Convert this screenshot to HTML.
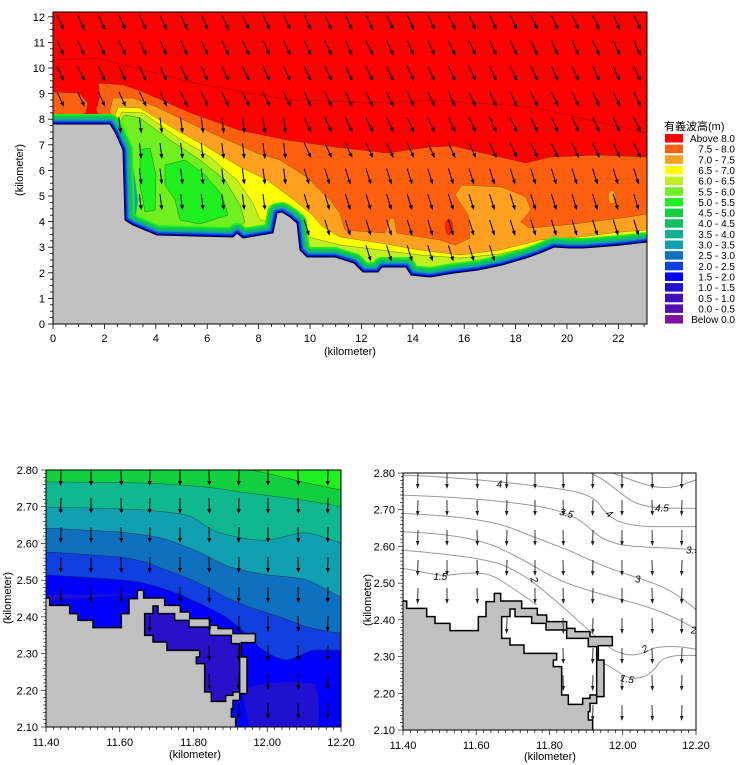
<!DOCTYPE html>
<html><head><meta charset="utf-8"><style>
html,body{margin:0;padding:0;background:#fff;}
svg{display:block;font-family:"Liberation Sans","Noto Sans CJK JP",sans-serif;}
</style></head><body>
<svg id="s" width="750" height="765" viewBox="0 0 750 765" xmlns="http://www.w3.org/2000/svg">
<defs>
<clipPath id="cT"><rect x="53" y="12" width="594" height="312"/></clipPath>
<clipPath id="cL"><rect x="46" y="470" width="295" height="257"/></clipPath>
<clipPath id="cR"><rect x="403" y="473" width="293" height="257"/></clipPath>
</defs>

<g clip-path="url(#cT)">
<rect x="53" y="12" width="594" height="312" fill="#ff0000"/>
<polyline points="53,60 97,58 194,83 290,100 387,103 435,100 532,107 647,133" fill="none" stroke="#b00000" stroke-width="0.8"/>
<polygon fill="#ff6010" stroke="#902000" stroke-width="0.5" points="53,92 79,93 88,103 86,113 76,118 53,120"/>
<polygon fill="#ff6010" stroke="#902000" stroke-width="0.5" points="98,83 124,85 143,92 191,113 239,130 287,140 335,147 387,153 430,147 454,146 478,152 526,163 550,157 598,155 647,157 647,324 53,324 53,124 100,118 96,110 100,95"/>
<polygon fill="#ffa020" stroke="#905000" stroke-width="0.5" points="110,124 110,110 113,98 133,98 157,107 190,123 223,138 257,153 280,160 307,177 330,200 340,213 345,230 385,233 390,218 394,218 397,233 440,240 455,245 470,238 468,215 455,195 462,185 502,187 526,197 531,210 521,222 530,228 574,224 621,218 647,214 647,324 53,324 53,124"/>
<ellipse cx="612" cy="197" rx="4" ry="7" fill="#ffa020" stroke="#905000" stroke-width="0.5"/>
<ellipse cx="449" cy="227" rx="3.5" ry="8" fill="#ff2000" stroke="#902000" stroke-width="0.5"/>
<polygon fill="#ffff00" stroke="#808000" stroke-width="0.5" points="112,125 118,107 140,108 173,128 207,147 240,167 267,180 290,197 310,213 323,227 340,237 380,243 420,250 460,255 500,250 540,240 580,237 620,232 647,230 647,324 53,324 53,124"/>
<polygon fill="#c0f020" stroke="#608000" stroke-width="0.5" points="115,125 122,112 143,113 177,137 210,157 237,180 253,203 260,220 273,223 300,235 340,245 380,250 420,255 460,258 500,254 540,245 580,242 620,238 647,236 647,324 53,324 53,124"/>
<polygon fill="#70f020" stroke="#308000" stroke-width="0.5" points="118,124 125,115 140,118 170,140 200,160 225,180 240,205 245,222 230,232 140,228 125,200"/>
<polygon fill="#20f020" stroke="#108000" stroke-width="0.5" points="165,165 185,160 205,175 222,195 228,215 200,224 180,220 175,200 165,185"/>
<polygon fill="#20f020" stroke="#108000" stroke-width="0.5" points="140,150 150,148 156,175 155,210 145,212 140,185"/>
<polygon fill="#10a0b0" points="124,150 133,165 138,200 135,222 124,222"/>
<polygon fill="#1070c0" points="124,165 130,180 130,215 124,218"/>
<g id="coastStrokes" fill="none" stroke-linejoin="round"></g>
<polygon id="landT" fill="#c0c0c0" stroke="#000" stroke-width="1"/>
<g id="arrT"></g>
</g>
<rect x="53" y="12" width="594" height="312" fill="none" stroke="#000" stroke-width="1"/>
<g id="axT" font-size="11" fill="#000"></g>
<text x="350" y="355" font-size="11" text-anchor="middle">(kilometer)</text>
<text transform="translate(23,170) rotate(-90)" font-size="11" text-anchor="middle">(kilometer)</text>

<text x="664" y="130" font-size="11">有義波高(m)</text>
<g id="leg" font-size="10"></g>

<g clip-path="url(#cL)">
<rect x="46" y="470" width="295" height="257" fill="#10d040"/>
<path fill="#20f020" stroke="#205020" stroke-width="0.5" d="M250,470 C265,472 290,480 341,490 L341,470 Z"/>
<path fill="#10b890" stroke="#205040" stroke-width="0.5" d="M46,482 C90,482 130,483 144,483 C190,485 220,488 240,492 C280,497 320,502 341,507 L341,727 L46,727 Z"/>
<path fill="#10a0b0" stroke="#204050" stroke-width="0.5" d="M46,507 C90,508 130,509 144,510 C170,512 185,514 192,517 C205,525 212,531 220,533 C240,538 255,541 268,540 C285,538 295,532 307,533 C320,535 330,540 341,543 L341,727 L46,727 Z"/>
<path fill="#1070c0" stroke="#203050" stroke-width="0.5" d="M46,528 C80,530 105,531 120,532 C145,535 160,537 168,540 C185,546 195,550 201,553 C215,560 222,564 230,567 C250,572 260,574 268,575 C290,577 300,578 307,580 C320,585 330,592 341,597 L341,727 L46,727 Z"/>
<path fill="#1040e0" stroke="#202050" stroke-width="0.5" d="M46,552 C80,554 105,556 120,557 C140,560 150,563 158,567 C175,573 185,577 192,580 C210,588 218,593 225,597 C245,606 258,610 268,613 C290,620 300,625 307,627 C320,630 330,632 341,633 L341,727 L46,727 Z"/>
<path fill="#0000ff" stroke="#202050" stroke-width="0.5" d="M46,575 C100,578 130,580 144,583 C170,590 182,595 192,600 C210,608 222,614 230,620 C245,632 252,640 259,647 C270,655 280,660 287,660 C300,657 308,650 316,650 L341,650 L341,727 L46,727 Z"/>
<path fill="#2010d0" d="M46,595 L150,594 L46,600 Z M242,690 C260,682 290,680 315,684 C320,700 320,715 318,727 L250,727 C246,715 244,700 242,690 Z"/>
<g transform="translate(43,462) scale(0.3333333)">
<polygon class="land" fill="#c0c0c0" stroke="#000" stroke-width="1.5" vector-effect="non-scaling-stroke"/>
<polygon class="harb" fill="#2a10c8" stroke="#000" stroke-width="1.5" vector-effect="non-scaling-stroke"/>
</g>
<g id="arrL"></g>
</g>
<rect x="46" y="470" width="295" height="257" fill="none" stroke="#000" stroke-width="1"/>
<g id="axL" font-size="11"></g>
<text x="195" y="758" font-size="11" text-anchor="middle">(kilometer)</text>
<text transform="translate(11,598) rotate(-90)" font-size="11" text-anchor="middle">(kilometer)</text>

<g clip-path="url(#cR)">
<rect x="403" y="473" width="293" height="257" fill="#fff"/>
<g transform="translate(400,465) scale(0.3333333)" fill="none" stroke="#999" stroke-width="1" >
<path vector-effect="non-scaling-stroke" d="M640,25 C670,35 700,50 760,65 C820,75 860,55 900,40"/>
<path vector-effect="non-scaling-stroke" d="M560,20 C620,40 660,90 700,110 C740,130 780,130 900,130"/>
<path vector-effect="non-scaling-stroke" d="M0,30 C150,35 300,50 400,62 C520,75 575,85 600,120 C630,165 660,180 750,185 L900,185"/>
<path vector-effect="non-scaling-stroke" d="M0,90 C150,95 300,105 420,125 C500,140 540,160 580,200 C620,235 660,245 780,248 L900,255"/>
<path vector-effect="non-scaling-stroke" d="M0,145 C130,150 260,160 350,195 C420,225 470,240 520,262 C600,300 650,320 720,340 C790,365 830,380 900,445"/>
<path vector-effect="non-scaling-stroke" d="M0,200 C120,205 220,215 300,250 C360,280 380,290 430,320 C500,360 560,375 650,400 C750,425 820,450 900,500"/>
<path vector-effect="non-scaling-stroke" d="M0,255 C120,265 280,280 330,310 C400,345 420,370 470,410 C540,470 600,530 640,555 C690,580 720,570 760,550 C800,540 850,545 900,555"/>
<path vector-effect="non-scaling-stroke" d="M0,310 C60,315 100,335 150,330 C220,322 260,318 300,345 C340,370 370,390 410,420"/>
<path vector-effect="non-scaling-stroke" d="M600,590 C650,610 670,640 700,640 C740,640 760,620 780,590 C800,570 840,570 900,572"/>
<polygon class="land" fill="#c0c0c0" stroke="#000" stroke-width="1.5" vector-effect="non-scaling-stroke"/>
<polygon class="harb" fill="#fff" stroke="#000" stroke-width="1.5" vector-effect="non-scaling-stroke"/>
<g fill="#000" stroke="none" font-size="30" font-style="italic">
<text x="290" y="68">4</text>
<text x="478" y="152" transform="rotate(15 490 145)">3.5</text>
<text x="618" y="155" transform="rotate(40 625 148)">4</text>
<text x="765" y="140">4.5</text>
<text x="858" y="265">3.5</text>
<text x="705" y="352">3</text>
<text x="100" y="345">1.5</text>
<text x="392" y="352" transform="rotate(70 400 345)">2</text>
<text x="872" y="506">2</text>
<text x="728" y="562" transform="rotate(-30 735 555)">2</text>
<text x="660" y="652" transform="rotate(10 680 645)">1.5</text>
</g>
</g>
<g id="arrR"></g>
</g>
<rect x="403" y="473" width="293" height="257" fill="none" stroke="#000" stroke-width="1"/>
<g id="axR" font-size="11"></g>
<text x="550" y="760" font-size="11" text-anchor="middle">(kilometer)</text>
<text transform="translate(371,600) rotate(-90)" font-size="11" text-anchor="middle">(kilometer)</text>
</svg>
<script>
var NS="http://www.w3.org/2000/svg";
function el(p,t,a,txt){var e=document.createElementNS(NS,t);for(var k in a)e.setAttribute(k,a[k]);if(txt!==undefined)e.textContent=txt;p.appendChild(e);return e;}
function arrow(g,x,y,dx,dy,col,h,w,sw){
  var L=Math.sqrt(dx*dx+dy*dy),ux=dx/L,uy=dy/L,nx=-uy,ny=ux;
  var tx=x+dx,ty=y+dy,bx=tx-ux*h,by=ty-uy*h;
  el(g,'line',{x1:x,y1:y,x2:bx,y2:by,stroke:col,'stroke-width':sw});
  el(g,'polygon',{points:tx+','+ty+' '+(bx+nx*w)+','+(by+ny*w)+' '+(bx-nx*w)+','+(by-ny*w),fill:col});
}
var coast=[[53,124],[110,124],[115,132],[123,150],[125,220],[133,225],[157,235],[233,237],[237,233],[243,238],[273,233],[277,213],[282,212],[290,217],[297,223],[300,250],[307,257],[335,257],[354,263],[363,272],[378,272],[382,267],[406,267],[411,275],[430,277],[454,273],[478,270],[502,265],[526,258],[540,253],[554,247],[569,248],[583,248],[597,247],[621,245],[647,242]];
var pts=coast.map(function(p){return p.join(',')}).join(' ');
document.getElementById('landT').setAttribute('points',pts+' 647,330 53,330');
var cs=document.getElementById('coastStrokes');
[[10,'#20f020'],[8.5,'#10d040'],[7,'#10c060'],[5.5,'#10b090'],[4.5,'#10a0b0'],[3.5,'#1070c0'],[2.5,'#1040e0'],[1.5,'#0000ff']].forEach(function(s){
  el(cs,'polyline',{points:pts,stroke:s[1],'stroke-width':2*s[0]});
});
function coastY(x){for(var i=0;i<coast.length-1;i++){var a=coast[i],b=coast[i+1];if(x>=a[0]&&x<=b[0]){if(b[0]==a[0])return Math.min(a[1],b[1]);return a[1]+(b[1]-a[1])*(x-a[0])/(b[0]-a[0]);}}return 242;}
var gT=document.getElementById('arrT');
for(var i=0;i<29;i++){for(var j=0;j<13;j++){
  var x=57+20.6*i,y=15+25.6*j,dx=7,dy=15;
  if(x<300&&y>100){dx=2;dy=16;}
  else if(y>150){dx=5;dy=16;}
  var ty=y+dy+3;
  if(ty>Math.min(coastY(x),coastY(x+dx))-1)continue;
  arrow(gT,x,y,dx,dy,'#000',5,2,1);
}}
var ax=document.getElementById('axT');
for(var k=0;k<=23;k+=0.5){var X=53+25.7*k;if(X>647.5)break;var maj=(k%2==0);
  el(ax,'line',{x1:X,y1:324,x2:X,y2:324+(maj?5:3),stroke:'#000','stroke-width':0.8});
  if(maj)el(ax,'text',{x:X,y:342,'text-anchor':'middle'},String(k));}
for(var k=0;k<=12;k+=0.25){var Y=324-25.6*k;var maj=(k%1==0);
  el(ax,'line',{x1:53,y1:Y,x2:53-(maj?5:3),y2:Y,stroke:'#000','stroke-width':0.8});
  if(maj)el(ax,'text',{x:45,y:Y+4,'text-anchor':'end'},String(k));}
var lg=document.getElementById('leg');
var cols=['#ff0000','#ff6010','#ffa020','#ffff00','#c0f020','#70f020','#20f020','#10d040','#10c060','#10b090','#10a0b0','#1070c0','#1040e0','#0000ff','#2010d0','#4010c0','#5010b0','#8010a0'];
var labs=['Above 8.0','7.5 - 8.0','7.0 - 7.5','6.5 - 7.0','6.0 - 6.5','5.5 - 6.0','5.0 - 5.5','4.5 - 5.0','4.0 - 4.5','3.5 - 4.0','3.0 - 3.5','2.5 - 3.0','2.0 - 2.5','1.5 - 2.0','1.0 - 1.5','0.5 - 1.0','0.0 - 0.5','Below 0.0'];
for(var i=0;i<18;i++){var y=134+10.65*i;
  el(lg,'rect',{x:665,y:y,width:18,height:8.5,fill:cols[i]});
  el(lg,'text',{x:735,y:y+8,'text-anchor':'end'},labs[i]);}
var land=[[0,408],[20,408],[20,430],[80,430],[80,455],[105,455],[105,475],[150,475],[150,497],[235,497],[235,455],[258,455],[258,410],[283,410],[283,385],[302,385],[302,408],[365,408],[365,430],[412,430],[412,450],[440,450],[440,470],[500,470],[500,490],[525,490],[525,500],[570,500],[570,515],[637,515],[637,542],[595,542],[595,585],[612,585],[612,695],[590,695],[590,715],[570,715],[570,740],[565,740],[565,765],[578,765],[578,800],[0,800]];
var harb=[[305,455],[330,455],[330,432],[345,432],[345,455],[395,455],[395,475],[438,475],[438,495],[500,495],[500,520],[565,520],[565,545],[590,545],[590,690],[570,690],[570,700],[548,700],[548,718],[505,718],[505,690],[485,690],[485,605],[460,605],[460,585],[470,585],[470,565],[372,565],[372,540],[330,540],[330,520],[305,520]];
function ps(a){return a.map(function(p){return p.join(',')}).join(' ');}
document.querySelectorAll('.land').forEach(function(e){e.setAttribute('points',ps(land));});
document.querySelectorAll('.harb').forEach(function(e){e.setAttribute('points',ps(harb));});
function inPoly(x,y,poly){var c=false;for(var i=0,j=poly.length-1;i<poly.length;j=i++){var xi=poly[i][0],yi=poly[i][1],xj=poly[j][0],yj=poly[j][1];if(((yi>y)!=(yj>y))&&(x<(xj-xi)*(y-yi)/(yj-yi)+xi))c=!c;}return c;}
function onLand(zx,zy){return inPoly(zx,zy,land)&&!inPoly(zx,zy,harb);}
var gL=document.getElementById('arrL'),gR=document.getElementById('arrR');
var cL=[61,91,121,150,180,209,239,268,298,328],rL=[470,498,527,557,587,616,645,674,703];
cL.forEach(function(x,i){rL.forEach(function(y,j){
  var zx=(x-43)*3,zy1=(y-462)*3,zy2=(y+16-462)*3;
  if(onLand(zx,zy1)||onLand(zx,zy2))return;
  arrow(gL,x,y,(i%3-1)*0.4,16,'#000',5,2,1);});});
var cR=[418,447,477,507,535,563,593,622,652,682],rR=[473,500,530,560,588,618,648,675,705];
cR.forEach(function(x,i){rR.forEach(function(y,j){
  var zx=(x-400)*3,zy1=(y-465)*3,zy2=(y+16-465)*3;
  if(onLand(zx,zy1)||onLand(zx,zy2))return;
  arrow(gR,x,y,(i%3-1)*0.4,16,'#222',5,1.8,0.9);});});
function axes(g,x0,x1,y0,y1){
  var G=document.getElementById(g);
  for(var v=0;v<=80;v+=2){var X=x0+(x1-x0)*v/80;var maj=(v%20==0);
    el(G,'line',{x1:X,y1:y1,x2:X,y2:y1+(maj?5:3),stroke:'#000','stroke-width':0.7});
    if(maj)el(G,'text',{x:X,y:y1+19,'text-anchor':'middle'},(11.4+v/100).toFixed(2));}
  for(var v=0;v<=70;v+=1){var Y=y0+(y1-y0)*v/70;var maj=(v%10==0);
    el(G,'line',{x1:x0,y1:Y,x2:x0-(maj?5:(v%2==0?3:2)),y2:Y,stroke:'#000','stroke-width':0.6});
    if(maj)el(G,'text',{x:x0-8,y:Y+4,'text-anchor':'end'},(2.8-v/100).toFixed(2));}
}
axes('axL',46,341,470,727);
axes('axR',403,696,473,730);
</script>
</body></html>
